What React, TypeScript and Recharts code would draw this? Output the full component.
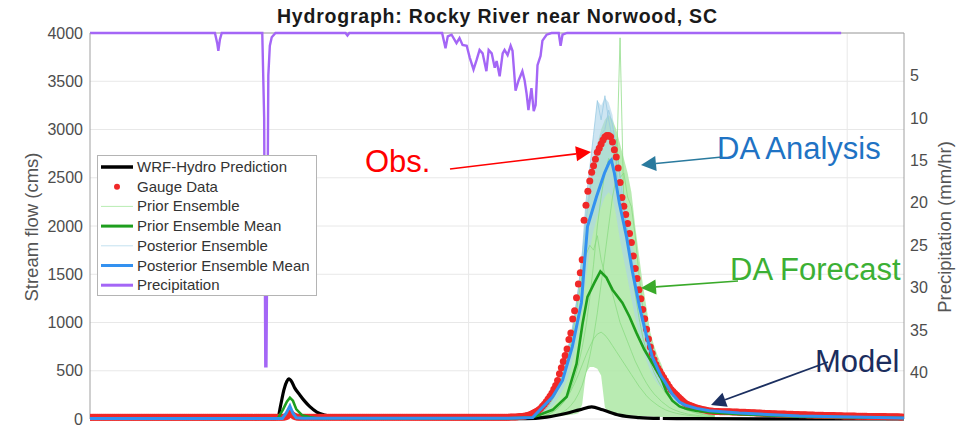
import React from 'react';
import { ComposedChart, Line, Area, XAxis, YAxis, ReferenceLine, CartesianGrid } from 'recharts';

const FONT = '"Liberation Sans", Arial, Helvetica, sans-serif';

// ---------- axis ticks ----------
const flowTicks = [0, 500, 1000, 1500, 2000, 2500, 3000, 3500, 4000];
const precipTicks = [5, 10, 15, 20, 25, 30, 35, 40];
const timeGrid = [0, 10, 20];

// ---------- WRF-Hydro prediction (t in days, flow in cms) ----------
const wrfBeforeGap = [
  [0, 4], [4.9, 4], [4.96, 12], [5.04, 150], [5.12, 300], [5.2, 390], [5.25, 415], [5.33, 385],
  [5.41, 320], [5.54, 250], [5.67, 185], [5.8, 130], [5.99, 72], [6.2, 42], [6.46, 25], [7.12, 12],
  [8.18, 6], [11.5, 4], [12.06, 20], [12.59, 60], [12.93, 95], [13.25, 125], [13.54, 95],
  [13.98, 40], [14.51, 15], [15.05, 6],
];
const wrfAfterGap = [[15.13, 5], [16, 3], [18, 2], [21.5, 1]];

// ---------- Gauge observations, every 0.05 day from t = 0 ----------
const gaugeStep = 0.05;
const gaugeFlow = [
  17, 17, 17, 17, 17, 17, 17, 17, 17, 17, 17, 17, 17, 17, 17, 17, 17, 17, 17, 17,
  17, 17, 17, 17, 17, 17, 17, 17, 17, 17, 17, 17, 17, 17, 17, 17, 17, 17, 17, 17,
  17, 17, 17, 17, 17, 17, 17, 17, 17, 17, 17, 17, 17, 17, 17, 17, 17, 17, 17, 17,
  17, 17, 17, 17, 17, 17, 17, 17, 17, 17, 17, 17, 17, 17, 17, 17, 17, 17, 17, 17,
  17, 17, 17, 17, 17, 17, 17, 17, 17, 17, 17, 17, 17, 17, 17, 17, 17, 17, 17, 17,
  17, 17, 18, 20, 28, 45, 60, 42, 28, 21, 19, 18, 18, 18, 18, 18, 18, 18, 18, 18,
  18, 18, 18, 18, 18, 18, 18, 18, 18, 18, 18, 18, 18, 18, 18, 18, 18, 18, 18, 18,
  18, 18, 18, 18, 18, 18, 18, 18, 18, 18, 18, 18, 18, 18, 18, 18, 18, 18, 18, 18,
  18, 18, 18, 18, 18, 18, 18, 18, 18, 18, 18, 18, 18, 18, 18, 18, 18, 18, 18, 18,
  18, 18, 18, 18, 18, 18, 18, 18, 18, 18, 18, 18, 18, 18, 18, 18, 18, 18, 18, 18,
  18, 18, 18, 18, 18, 18, 18, 18, 18, 18, 18, 18, 18, 18, 18, 18, 18, 18, 18, 18,
  19, 19, 20, 20, 21, 22, 23, 25, 27, 29, 30, 35, 42, 50, 60, 70, 80, 92, 110, 132,
  152, 180, 208, 237, 268, 308, 348, 400, 468, 530, 595, 657, 725, 823, 890, 1035, 1122, 1257, 1400, 1515,
  1650, 2060, 2215, 2360, 2467, 2556, 2625, 2692, 2764, 2806, 2850, 2890, 2922, 2938, 2938, 2926, 2870, 2790, 2715, 2600,
  2450, 2295, 2205, 2120, 2026, 1922, 1830, 1690, 1560, 1455, 1340, 1245, 1135, 1040, 930, 830, 745, 680, 615, 565,
  525, 495, 462, 430, 396, 364, 335, 305, 285, 265, 245, 225, 208, 190, 172, 156, 148, 140, 132, 124,
  116, 111, 106, 100, 96, 92, 88, 84, 82, 80, 79, 78, 77, 76, 76, 75, 75, 74, 74, 73,
  73, 72, 72, 71, 70, 70, 69, 68, 67, 66, 65, 64, 63, 62, 61, 60, 59, 58, 57, 56,
  55, 54, 54, 53, 52, 52, 51, 51, 50, 50, 49, 48, 47, 46, 46, 45, 44, 43, 43, 42,
  42, 41, 41, 40, 39, 39, 38, 38, 37, 37, 36, 36, 35, 35, 34, 34, 33, 33, 32, 32,
  31, 31, 30, 30, 30, 29, 29, 29, 28, 28, 28, 27, 27, 27, 26, 26, 26, 25, 25, 25,
  25, 24, 24, 24, 23, 23, 23, 23, 22, 22,
];

// ---------- Ensemble means ----------
const priorMean = [
  [0, 6], [4.96, 6], [5.1, 100], [5.2, 180], [5.28, 220], [5.36, 190], [5.45, 100], [5.6, 40],
  [5.8, 20], [6.0, 8], [11.0, 6], [11.69, 15], [12.22, 95], [12.59, 230], [12.85, 570],
  [13.01, 990], [13.14, 1265], [13.32, 1410], [13.48, 1530], [13.64, 1465], [13.8, 1340],
  [14.06, 1205], [14.25, 1060], [14.43, 895], [14.64, 720], [14.85, 580], [15.09, 420],
  [15.22, 285], [15.38, 190], [15.57, 130], [15.75, 105], [16.0, 85], [16.5, 65], [17.15, 50],
  [18.73, 25], [21.5, 10],
];
const posteriorMean = [
  [0, 6], [5.08, 6], [5.18, 60], [5.28, 135], [5.36, 60], [5.45, 12], [5.6, 7], [11.0, 7],
  [11.69, 15], [12.22, 230], [12.48, 400], [12.74, 750], [12.98, 1205], [13.06, 1615],
  [13.14, 1995], [13.38, 2305], [13.59, 2550], [13.72, 2665], [13.77, 2685], [13.85, 2550],
  [13.98, 2240], [14.17, 1890], [14.33, 1520], [14.51, 1170], [14.7, 860], [14.85, 645],
  [15.04, 480], [15.09, 440], [15.17, 395], [15.38, 260], [15.57, 176], [15.75, 140],
  [16.02, 110], [16.36, 85], [17.15, 62], [18.73, 30], [21.5, 10],
];

// ---------- Ensemble spread, every 0.1 day from t = 11.5 ----------
const ensStart = 11.5;
const ensStep = 0.1;
const priorLow = [5, 5, 8, 10, 12, 15, 18, 20, 25, 30, 35, 40, 45, 50, 60, 150, 480, 540, 540, 520, 450, 120, 60, 50, 45, 42, 40, 38, 36, 34, 32, 30, 28, 26, 24, 22, 20, 18, 17, 16, 15, 14, 13, 12, 11, 10, 10, 9, 9, 8, 8];
const priorHigh = [18, 28, 40, 60, 90, 150, 200, 260, 340, 450, 570, 700, 850, 1050, 1350, 1650, 2200, 2450, 2700, 2850, 3000, 3100, 3150, 3100, 3000, 2850, 2700, 2550, 2350, 2000, 1700, 1400, 1150, 900, 760, 650, 560, 430, 330, 270, 220, 180, 150, 125, 110, 95, 85, 78, 70, 65, 60];
const postLow = [5, 8, 12, 20, 35, 60, 90, 130, 180, 240, 310, 400, 520, 700, 900, 1150, 1450, 1750, 1950, 2100, 2200, 2300, 2350, 2300, 2100, 1850, 1650, 1450, 1250, 1050, 880, 730, 600, 500, 420, 360, 320, 280, 230, 190, 160, 140, 120, 105, 95, 85, 80, 75, 70, 65, 60];
const postHigh = [20, 30, 50, 75, 105, 145, 195, 250, 330, 440, 560, 700, 850, 1080, 1350, 1700, 2250, 2600, 2950, 3300, 3250, 3330, 3280, 3150, 2850, 2600, 2380, 2150, 1900, 1650, 1420, 1200, 1000, 820, 680, 560, 500, 420, 340, 280, 230, 200, 175, 155, 140, 125, 115, 105, 100, 95, 90];

const priorMember1 = [10, 15, 25, 40, 60, 90, 130, 190, 260, 350, 460, 600, 780, 1000, 1250, 1500, 1700, 1800, 1750, 1900, 1650, 1500, 1400, 1300, 1150, 1000, 900, 800, 700, 600, 520, 440, 370, 310, 260, 220, 180, 150, 120, 100, 85, 70, 60, 50, 45, 40, 35, 30, 28, 25, 22];
const priorMember2 = [5, 6, 8, 10, 12, 15, 20, 28, 40, 55, 75, 100, 140, 190, 260, 350, 480, 650, 850, 1100, 1400, 1700, 2000, 2300, 2500, 3950, 2200, 1900, 1600, 1300, 1050, 850, 700, 580, 480, 400, 330, 270, 220, 180, 150, 125, 105, 90, 78, 68, 60, 52, 46, 40, 35];
const priorMember3 = [5, 8, 12, 18, 25, 35, 50, 70, 95, 130, 170, 220, 290, 370, 460, 560, 660, 750, 830, 880, 900, 870, 820, 760, 700, 640, 580, 520, 460, 400, 340, 290, 240, 200, 170, 140, 115, 95, 80, 68, 58, 50, 44, 38, 34, 30, 27, 24, 22, 20, 18];
const priorMember4 = [5, 7, 10, 14, 20, 30, 45, 65, 90, 125, 170, 230, 310, 420, 560, 740, 960, 1250, 1600, 2000, 2300, 2550, 2700, 2650, 2900, 2500, 2550, 2300, 2200, 1900, 1500, 1150, 900, 720, 600, 560, 450, 340, 260, 200, 160, 130, 105, 88, 74, 62, 52, 45, 40, 35, 30];
const postMember1 = [10, 20, 40, 70, 100, 140, 190, 250, 330, 440, 560, 700, 850, 1080, 1350, 1700, 2250, 2600, 2950, 3300, 3100, 3350, 3100, 2900, 2600, 2350, 2150, 1900, 1650, 1400, 1150, 950, 780, 640, 520, 440, 390, 330, 270, 220, 180, 150, 130, 115, 100, 90, 82, 76, 70, 65, 60];
const postMember2 = [5, 10, 20, 35, 60, 95, 140, 200, 280, 380, 500, 650, 830, 1050, 1350, 1700, 2050, 2350, 2600, 2800, 2950, 3000, 3200, 3050, 2800, 2500, 2200, 1950, 1700, 1450, 1250, 1050, 860, 700, 580, 480, 420, 350, 290, 240, 195, 165, 140, 120, 105, 95, 85, 78, 72, 66, 60];

// ---------- Precipitation (t in days, mm/hr) ----------
const precipitation = [
  [0, 0], [3.3, 0], [3.36, 1.2], [3.39, 2.1], [3.43, 0.8], [3.48, 0], [4.55, 0], [4.6, 10],
  [4.63, 39.3], [4.66, 39.3], [4.69, 20], [4.71, 5], [4.75, 1.5], [4.8, 0.5], [4.9, 0],
  [6.75, 0], [6.8, 0.3], [6.85, 0], [9.3, 0], [9.39, 1.8], [9.45, 0.4], [9.55, 0.2], [9.68, 1.2],
  [9.76, 0.6], [9.84, 1.4], [9.95, 1.5], [10.03, 2.9], [10.13, 4.3], [10.21, 3.2], [10.29, 2.0],
  [10.37, 2.4], [10.47, 4.5], [10.53, 2.0], [10.61, 2.4], [10.69, 4.1], [10.74, 3.3], [10.82, 5.1],
  [10.9, 2.4], [10.95, 2.0], [11.03, 2.6], [11.11, 1.5], [11.16, 2.1], [11.24, 6.8], [11.32, 5.6],
  [11.42, 4.5], [11.48, 5.6], [11.53, 7.1], [11.58, 9.1], [11.66, 6.5], [11.72, 9.2], [11.77, 8.5],
  [11.82, 3.8], [11.9, 2.7], [11.95, 0.9], [12.06, 0.2], [12.19, 0], [12.38, 0], [12.43, 1.5],
  [12.48, 0.2], [12.6, 0], [19.84, 0],
];

// ---------- Legend ----------
const legendItems = [
  { label: 'WRF-Hydro Prediction', kind: 'line', color: '#000000', width: 3.5 },
  { label: 'Gauge Data', kind: 'dot', color: '#f02828', width: 0 },
  { label: 'Prior Ensemble', kind: 'line', color: '#b8ecb2', width: 1 },
  { label: 'Prior Ensemble Mean', kind: 'line', color: '#1e9e1e', width: 3 },
  { label: 'Posterior Ensemble', kind: 'line', color: '#c4e2f0', width: 1 },
  { label: 'Posterior Ensemble Mean', kind: 'line', color: '#3391f0', width: 3 },
  { label: 'Precipitation', kind: 'line', color: '#a466f6', width: 3 },
];

// ---------- build tables ----------
const pairs = (arr: number[][]) => arr.map(([t, v]) => ({ t, v }));
const gaugeData = gaugeFlow.map((v, i) => ({ t: Math.round(i * gaugeStep * 100) / 100, v }));
const ensT = priorLow.map((_, i) => Math.round((ensStart + i * ensStep) * 100) / 100);
const priorBand = ensT.map((t, i) => ({ t, v: [priorLow[i], priorHigh[i]] }));
const postBand = ensT.map((t, i) => ({ t, v: [postLow[i], postHigh[i]] }));
const member = (arr: number[]) => arr.map((v, i) => ({ t: ensT[i], v }));

const GRID = '#e8e8e8';
const AXIS = '#a0a0a0';

function Arrow({ x1, y1, x2, y2, color }: { x1: number; y1: number; x2: number; y2: number; color: string }) {
  const dx = x2 - x1;
  const dy = y2 - y1;
  const L = Math.hypot(dx, dy);
  const ux = dx / L;
  const uy = dy / L;
  const hl = 15;
  const hw = 7.5;
  const bx = x2 - ux * hl;
  const by = y2 - uy * hl;
  const nx = -uy;
  const ny = ux;
  return (
    <g>
      <line x1={x1} y1={y1} x2={bx} y2={by} stroke={color} strokeWidth={1.7} />
      <polygon points={`${x2},${y2} ${bx + nx * hw},${by + ny * hw} ${bx - nx * hw},${by - ny * hw}`} fill={color} />
    </g>
  );
}

export default function App() {
  const TopLine = Line as any;
  return (
    <div style={{ position: 'absolute', left: 0, top: 0, width: 963, height: 429, background: '#ffffff', overflow: 'hidden' }}>
      <ComposedChart width={963} height={429} margin={{ top: 33, right: 0, bottom: 10, left: 0 }}>
        <CartesianGrid yAxisId="left" stroke={GRID} vertical={false} />
        <XAxis type="number" dataKey="t" domain={[0, 21.5]} ticks={timeGrid} hide allowDataOverflow />
        <YAxis
          yAxisId="left"
          width={90}
          domain={[0, 4000]}
          ticks={flowTicks}
          interval={0}
          axisLine={{ stroke: AXIS }}
          tickLine={false}
          tickSize={0}
          tickMargin={7}
          tick={{ fill: '#4d4d4d', fontSize: 16, fontFamily: FONT }}
        />
        <YAxis
          yAxisId="p"
          orientation="right"
          width={59}
          domain={[0, 45.5]}
          reversed
          ticks={precipTicks}
          interval={0}
          axisLine={{ stroke: AXIS }}
          tickLine={false}
          tickSize={0}
          tickMargin={6}
          tick={{ fill: '#4d4d4d', fontSize: 16, fontFamily: FONT, textAnchor: 'start' }}
        />
        {timeGrid.slice(1).map((x) => (
          <ReferenceLine key={x} yAxisId="left" x={x} stroke={GRID} />
        ))}
        <ReferenceLine yAxisId="left" y={4000} stroke={AXIS} />

        <Area yAxisId="left" data={priorBand} dataKey="v" type="linear" stroke="none" fill="#ade8a5" fillOpacity={0.85} isAnimationActive={false} />
        {[priorMember1, priorMember2, priorMember3, priorMember4].map((m, i) => (
          <Line key={'pm' + i} yAxisId="left" data={member(m)} dataKey="v" type="linear" stroke="#86d97e" strokeWidth={0.9} strokeOpacity={0.8} dot={false} isAnimationActive={false} />
        ))}
        <Area yAxisId="left" data={postBand} dataKey="v" type="linear" stroke="none" fill="#acd4ea" fillOpacity={0.6} isAnimationActive={false} />
        {[postMember1, postMember2].map((m, i) => (
          <Line key={'qm' + i} yAxisId="left" data={member(m)} dataKey="v" type="linear" stroke="#94c7e2" strokeWidth={0.9} strokeOpacity={0.8} dot={false} isAnimationActive={false} />
        ))}

        <Line yAxisId="left" data={pairs(wrfBeforeGap)} dataKey="v" type="monotone" stroke="#000000" strokeWidth={3.2} dot={false} isAnimationActive={false} />
        <Line yAxisId="left" data={pairs(wrfAfterGap)} dataKey="v" type="monotone" stroke="#000000" strokeWidth={3.2} dot={false} isAnimationActive={false} />

        <Line
          yAxisId="left"
          data={gaugeData}
          dataKey="v"
          stroke="none"
          strokeWidth={0}
          dot={{ r: 3.5, fill: '#f02828', stroke: 'none' }}
          isAnimationActive={false}
        />

        <TopLine zIndex={1000} yAxisId="left" data={pairs(priorMean)} dataKey="v" type="linear" stroke="#1e9e1e" strokeWidth={2.6} dot={false} isAnimationActive={false} />
        <TopLine zIndex={1000} yAxisId="left" data={pairs(posteriorMean)} dataKey="v" type="linear" stroke="#3391f0" strokeWidth={3} dot={false} isAnimationActive={false} />
        <Line yAxisId="p" data={pairs(precipitation)} dataKey="v" type="linear" stroke="#a466f6" strokeWidth={2.4} dot={false} isAnimationActive={false} />
      </ComposedChart>

      <svg width={963} height={429} style={{ position: 'absolute', left: 0, top: 0, pointerEvents: 'none' }}>
        <text x={497} y={23} textAnchor="middle" fontFamily={FONT} fontWeight="bold" fontSize={19.5} fill="#1a1a1a" textLength={440} lengthAdjust="spacing">
          Hydrograph: Rocky River near Norwood, SC
        </text>
        <text transform="translate(38,227) rotate(-90)" textAnchor="middle" fontFamily={FONT} fontSize={18.5} fill="#555555">
          Stream flow (cms)
        </text>
        <text transform="translate(951,227) rotate(-90)" textAnchor="middle" fontFamily={FONT} fontSize={18.5} fill="#555555">
          Precipitation (mm/hr)
        </text>

        <g>
          <rect x={97.5} y={155.5} width={219} height={140} fill="#ffffff" stroke="#b4b4b4" strokeWidth={1} />
          {legendItems.map((it, i) => {
            const cy = 167 + i * 19.7;
            return (
              <g key={it.label}>
                {it.kind === 'dot' ? (
                  <circle cx={117} cy={cy} r={3} fill={it.color} />
                ) : (
                  <line x1={101} x2={133} y1={cy} y2={cy} stroke={it.color} strokeWidth={it.width} />
                )}
                <text x={137} y={cy + 5} fontFamily={FONT} fontSize={15} fill="#333333">
                  {it.label}
                </text>
              </g>
            );
          })}
        </g>

        <text x={365} y={172} fontFamily={FONT} fontSize={31} fill="#ff0000">Obs.</text>
        <Arrow x1={450} y1={169} x2={591} y2={152} color="#ff0000" />
        <text x={717} y={159} fontFamily={FONT} fontSize={31} fill="#1f73c4">DA Analysis</text>
        <Arrow x1={722} y1={157} x2={641} y2={165} color="#2a7a9e" />
        <text x={730} y={280} fontFamily={FONT} fontSize={31} fill="#3cb034">DA Forecast</text>
        <Arrow x1={738} y1={281} x2={641} y2={288} color="#3aaa2a" />
        <text x={815} y={372} fontFamily={FONT} fontSize={31} fill="#1b2d5e">Model</text>
        <Arrow x1={828} y1={362} x2={711} y2={405} color="#1b2f60" />
      </svg>
    </div>
  );
}
